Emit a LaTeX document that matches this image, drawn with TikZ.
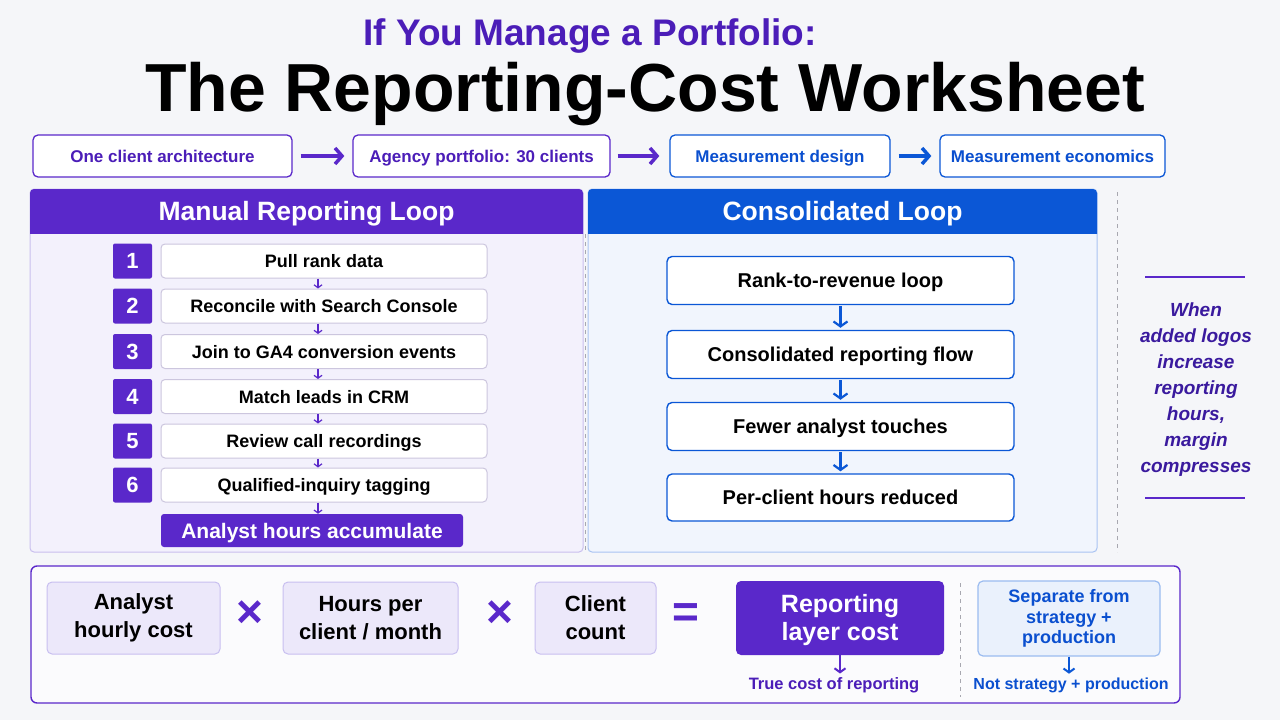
\documentclass[tikz,border=0pt]{standalone}
\usepackage{fontspec}
\setmainfont{Liberation Sans}
\usetikzlibrary{arrows.meta,calc}
\definecolor{bgc}{HTML}{F5F6F9}
\definecolor{hdrP}{HTML}{5A28CA}
\definecolor{txtP}{HTML}{4B1DB8}
\definecolor{hdrB}{HTML}{0B57D6}
\definecolor{txtB}{HTML}{0A4FCF}
\definecolor{lavP}{HTML}{F3F1FC}
\definecolor{lavB}{HTML}{C9BFEE}
\definecolor{pnlB}{HTML}{F1F5FD}
\definecolor{pnlBb}{HTML}{A9C3F2}
\definecolor{stepB}{HTML}{CCC6DE}
\definecolor{noteP}{HTML}{3A1A9E}
\definecolor{inF}{HTML}{ECE8FA}
\definecolor{inB}{HTML}{C8BFF0}
\definecolor{spF}{HTML}{EAF1FC}
\definecolor{spB}{HTML}{9BBCF0}
\definecolor{dashG}{HTML}{A8A8B0}
\newcommand{\fsz}[1]{\fontsize{#1}{#1}\selectfont}
\newcommand{\fszl}[2]{\fontsize{#1}{#2}\selectfont}
\tikzset{
  oneline/.style={text height=#1, text depth=0pt},
  topP/.style={oneline=12.2pt, draw=hdrP, line width=1.3pt, fill=white, rounded corners=5pt, minimum height=42pt, text=txtP, font=\bfseries\fsz{17}},
  topB/.style={oneline=12.2pt, draw=hdrB, line width=1.3pt, fill=white, rounded corners=5pt, minimum height=42pt, text=txtB, font=\bfseries\fsz{17}},
  bigarrP/.style={draw=hdrP, line width=3.5pt, -{Straight Barb[length=7pt,width=16pt]}},
  bigarrB/.style={draw=hdrB, line width=3.5pt, -{Straight Barb[length=7pt,width=16pt]}},
  numbox/.style={oneline=15.8pt, fill=hdrP, rounded corners=2pt, minimum width=39pt, minimum height=35pt, text=white, font=\bfseries\fsz{22}},
  stepbox/.style={oneline=13pt, draw=stepB, line width=1pt, fill=white, rounded corners=4pt, minimum width=326pt, minimum height=34pt, font=\bfseries\fsz{18}},
  tinyarr/.style={draw=hdrP, line width=1.2pt, -{Straight Barb[length=3pt,width=8pt]}},
  conbox/.style={oneline=14.4pt, draw=hdrB, line width=1.4pt, fill=white, rounded corners=5pt, minimum width=347pt, minimum height=48pt, font=\bfseries\fsz{20}},
  conarr/.style={draw=hdrB, line width=2.2pt, -{Straight Barb[length=5pt,width=14pt]}},
  inbox/.style={draw=inB, line width=1pt, fill=inF, rounded corners=5pt, minimum height=72pt, align=center, font=\bfseries\fszl{22}{28}},
  opsym/.style={text=hdrP, font=\bfseries\fsz{46}},
  smarrP/.style={draw=hdrP, line width=2pt, -{Straight Barb[length=4pt,width=11pt]}},
  smarrB/.style={draw=hdrB, line width=2pt, -{Straight Barb[length=4pt,width=11pt]}},
  sepdash/.style={draw=dashG, line width=0.8pt, dash pattern=on 4pt off 4pt},
}
\begin{document}
\begin{tikzpicture}[x=1pt,y=-1pt]
\useasboundingbox (0,0) rectangle (1280,720);
\fill[bgc] (0,0) rectangle (1280,720);

% titles
\node[anchor=base, text=txtP, font=\bfseries\fsz{37}] (ttl1) at (590,45) {If You Manage a Portfolio:};
\node[anchor=base, text=black, font=\bfseries\fsz{68}] (ttl2) at (645,111) {The Reporting-Cost Worksheet};

% top row
\node[topP, minimum width=259pt] (t1) at (162.5,156) {One client architecture};
\node[topP, minimum width=257pt] (t2) at (481.5,156) {Agency portfolio: 30 clients};
\node[topB, minimum width=220pt] (t3) at (780,156) {Measurement design};
\node[topB, minimum width=225pt] (t4) at (1052.5,156) {Measurement economics};
\draw[bigarrP, shorten <=8pt, shorten >=8pt] (t1.east) -- (t2.west);
\draw[bigarrP, shorten <=7pt, shorten >=10pt] (t2.east) -- (t3.west);
\draw[bigarrB, shorten <=8pt, shorten >=8pt] (t3.east) -- (t4.west);

% left panel
\node[draw=lavB, line width=1pt, fill=lavP, rounded corners=4pt, minimum width=553pt, minimum height=363pt] (lp) at (306.5,370.5) {};
\begin{scope}
\clip (29,188) rectangle (584,233);
\fill[hdrP, rounded corners=4pt] (30,189) rectangle (583,270);
\end{scope}
\node[oneline=19pt, text=white, font=\bfseries\fsz{26.5}] (lph) at (306.5,211) {Manual Reporting Loop};

% right panel
\node[draw=pnlBb, line width=1pt, fill=pnlB, rounded corners=4pt, minimum width=509pt, minimum height=363pt] (rp) at (842.5,370.5) {};
\begin{scope}
\clip (587,188) rectangle (1098,233);
\fill[hdrB, rounded corners=4pt] (588,189) rectangle (1097,270);
\end{scope}
\node[oneline=19pt, text=white, font=\bfseries\fsz{26.5}] (rph) at (842.5,211) {Consolidated Loop};

% separators
\coordinate (sepA1) at (585.5,234);
\coordinate (sepA2) at (585.5,552);
\draw[sepdash] (sepA1) -- (sepA2);
\coordinate (sepB1) at (1117,192);
\coordinate (sepB2) at (1117,552);
\draw[sepdash] (sepB1) -- (sepB2);

% steps
\node[numbox] (n1) at (132.5,261) {1};
\node[numbox] (n2) at (132.5,306) {2};
\node[numbox] (n3) at (132.5,351.5) {3};
\node[numbox] (n4) at (132.5,396.5) {4};
\node[numbox] (n5) at (132.5,441) {5};
\node[numbox] (n6) at (132.5,485) {6};
\node[stepbox] (s1) at (324,261) {Pull rank data};
\node[stepbox] (s2) at (324,306) {Reconcile with Search Console};
\node[stepbox] (s3) at (324,351.5) {Join to GA4 conversion events};
\node[stepbox] (s4) at (324,396.5) {Match leads in CRM};
\node[stepbox] (s5) at (324,441) {Review call recordings};
\node[stepbox] (s6) at (324,485) {Qualified-inquiry tagging};
\node[oneline=15.1pt, fill=hdrP, rounded corners=3pt, minimum width=302pt, minimum height=33pt, text=white, font=\bfseries\fsz{21}] (ah) at (312,530.5) {Analyst hours accumulate};
\coordinate (ax) at (318,0);
\draw[tinyarr] (s1.south -| ax) -- (s2.north -| ax);
\draw[tinyarr] (s2.south -| ax) -- (s3.north -| ax);
\draw[tinyarr] (s3.south -| ax) -- (s4.north -| ax);
\draw[tinyarr] (s4.south -| ax) -- (s5.north -| ax);
\draw[tinyarr] (s5.south -| ax) -- (s6.north -| ax);
\draw[tinyarr] (s6.south -| ax) -- (ah.north -| ax);

% consolidated
\node[conbox] (c1) at (840.5,280.5) {Rank-to-revenue loop};
\node[conbox] (c2) at (840.5,354.5) {Consolidated reporting flow};
\node[conbox] (c3) at (840.5,426.5) {Fewer analyst touches};
\node[conbox, minimum height=47pt] (c4) at (840.5,497.5) {Per-client hours reduced};
\draw[conarr, shorten <=1pt, shorten >=2pt] (c1.south) -- (c2.north);
\draw[conarr, shorten <=1pt, shorten >=2pt] (c2.south) -- (c3.north);
\draw[conarr, shorten <=1pt, shorten >=2pt] (c3.south) -- (c4.north);

% side note
\coordinate (nl1a) at (1145,277);
\coordinate (nl1b) at (1245,277);
\coordinate (nl2a) at (1145,498);
\coordinate (nl2b) at (1245,498);
\draw[hdrP, line width=1.8pt] (nl1a) -- (nl1b);
\draw[hdrP, line width=1.8pt] (nl2a) -- (nl2b);
\node[text=noteP, align=center, font=\bfseries\itshape\fszl{19}{26}] (note) at (1196,390) {When\\added logos\\increase\\reporting\\hours,\\margin\\compresses};

% bottom panel
\node[draw=hdrP, line width=1.4pt, fill=white!60!bgc, rounded corners=6pt, minimum width=1149pt, minimum height=137pt] (bp) at (605.5,634.5) {};
\node[inbox, minimum width=173pt] (b1) at (133.5,618) {Analyst\\hourly cost};
\node[opsym] (x1) at (250,614) {×};
\node[inbox, minimum width=175pt] (b2) at (370.5,618) {Hours per\\client / month};
\node[opsym] (x2) at (500,614) {×};
\node[inbox, minimum width=121pt] (b3) at (595.5,618) {Client\\count};
\node[opsym, font=\bfseries\fsz{46}] (eq) at (686,616) {=};
\node[fill=hdrP, rounded corners=5pt, minimum width=208pt, minimum height=74pt, text=white, align=center, font=\bfseries\fszl{25}{28}, inner ysep=6pt] (rl) at (840,618) {\rule{0pt}{22pt}Reporting\\layer cost};
\node[oneline=11.9pt, text=txtP, font=\bfseries\fsz{16.5}] (tc) at (834,684) {True cost of reporting};
\draw[smarrP, shorten >=1pt] (rl.south) -- (tc.north -| rl.south);
\coordinate (sepC1) at (960,583);
\coordinate (sepC2) at (960,697);
\draw[sepdash] (sepC1) -- (sepC2);
\node[draw=spB, line width=1.2pt, fill=spF, rounded corners=5pt, minimum width=182pt, minimum height=75pt, text=txtB, align=center, font=\bfseries\fszl{18}{20.5}] (sp) at (1069,618.5) {Separate from\\strategy +\\production};
\node[oneline=11.5pt, text=txtB, font=\bfseries\fsz{16}] (ns) at (1071,684) {Not strategy + production};
\draw[smarrB, shorten >=1pt] (sp.south) -- (ns.north -| sp.south);
\end{tikzpicture}
\end{document}
